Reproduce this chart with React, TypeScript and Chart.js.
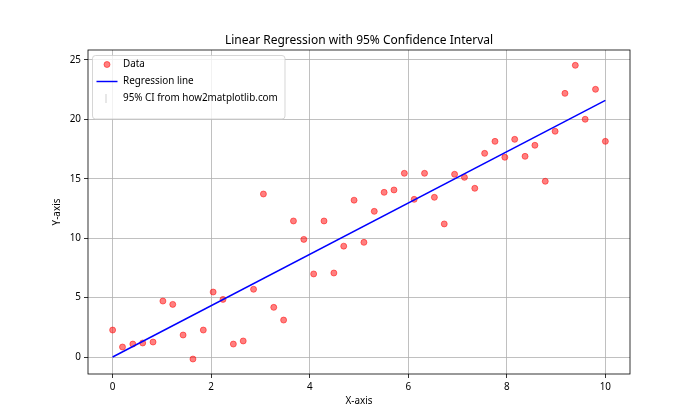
import React, { useEffect, useRef } from 'react';
import { Chart, registerables } from 'chart.js';

Chart.register(...registerables);

const FONT = '"Noto Sans", "DejaVu Sans", sans-serif';

const xValues = [
  0.0, 0.2, 0.41, 0.61, 0.82, 1.02, 1.22, 1.43, 1.63, 1.84,
  2.04, 2.24, 2.45, 2.65, 2.86, 3.06, 3.27, 3.47, 3.67, 3.88,
  4.08, 4.29, 4.49, 4.69, 4.9, 5.1, 5.31, 5.51, 5.71, 5.92,
  6.12, 6.33, 6.53, 6.73, 6.94, 7.14, 7.35, 7.55, 7.76, 7.96,
  8.16, 8.37, 8.57, 8.78, 8.98, 9.18, 9.39, 9.59, 9.8, 10.0,
];
const yValues = [
  2.27, 0.84, 1.09, 1.18, 1.26, 4.71, 4.43, 1.85, -0.17, 2.27,
  5.47, 4.85, 1.09, 1.35, 5.7, 13.72, 4.18, 3.11, 11.45, 9.9,
  6.99, 11.45, 7.07, 9.33, 13.2, 9.65, 12.26, 13.86, 14.06, 15.46,
  13.27, 15.46, 13.44, 11.2, 15.38, 15.12, 14.2, 17.14, 18.15, 16.81,
  18.32, 16.89, 17.82, 14.79, 19.0, 22.19, 24.55, 20.01, 22.53, 18.15,
];
const regressionX = [0, 10];
const regressionY = [0.0, 21.6];

const xTicks = [0, 2, 4, 6, 8, 10];
const yTicks = [0, 5, 10, 15, 20, 25];

const titleText = 'Linear Regression with 95% Confidence Interval';
const xLabel = 'X-axis';
const yLabel = 'Y-axis';
const legendLabels = ['Data', 'Regression line', '95% CI from how2matplotlib.com'];

const overlayPlugin = {
  id: 'overlay',
  afterDraw(chart: any) {
    const ctx = chart.ctx as CanvasRenderingContext2D;
    const a = chart.chartArea;
    ctx.save();
    // frame
    ctx.strokeStyle = '#000';
    ctx.lineWidth = 0.8;
    ctx.strokeRect(a.left, a.top, a.right - a.left, a.bottom - a.top);

    // title
    ctx.fillStyle = '#000';
    ctx.font = `12px ${FONT}`;
    ctx.textAlign = 'center';
    ctx.textBaseline = 'middle';
    ctx.fillText(titleText, (a.left + a.right) / 2, 41);

    // axis labels
    ctx.font = `9.9px ${FONT}`;
    ctx.fillText(xLabel, (a.left + a.right) / 2, 401);
    ctx.save();
    ctx.translate(57, (a.top + a.bottom) / 2);
    ctx.rotate(-Math.PI / 2);
    ctx.fillText(yLabel, 0, 0);
    ctx.restore();

    // legend
    const lx = a.left + 4.5;
    const ly = a.top + 5.5;
    const lw = 192.5;
    const lh = 63.5;
    ctx.beginPath();
    (ctx as any).roundRect(lx, ly, lw, lh, 3);
    ctx.fillStyle = 'rgba(255,255,255,0.8)';
    ctx.fill();
    ctx.strokeStyle = 'rgba(204,204,204,0.8)';
    ctx.lineWidth = 1;
    ctx.stroke();

    const rows = [ly + 9, ly + 26, ly + 43];
    const mx = lx + 14.5;
    // Data marker
    ctx.beginPath();
    ctx.arc(mx, rows[0], 3, 0, Math.PI * 2);
    ctx.fillStyle = 'rgba(255,0,0,0.5)';
    ctx.fill();
    ctx.strokeStyle = 'rgba(255,0,0,0.5)';
    ctx.lineWidth = 1;
    ctx.stroke();
    // regression line marker
    ctx.beginPath();
    ctx.moveTo(lx + 4, rows[1]);
    ctx.lineTo(lx + 25, rows[1]);
    ctx.strokeStyle = '#0000ff';
    ctx.lineWidth = 1.46;
    ctx.stroke();
    // CI marker
    ctx.beginPath();
    ctx.moveTo(mx - 1, rows[2] - 4.5);
    ctx.lineTo(mx - 1, rows[2] + 4.5);
    ctx.strokeStyle = 'rgba(128,128,128,0.25)';
    ctx.lineWidth = 1.5;
    ctx.stroke();

    ctx.fillStyle = '#000';
    ctx.font = `9.9px ${FONT}`;
    ctx.textAlign = 'left';
    ctx.textBaseline = 'middle';
    legendLabels.forEach((t, i) => ctx.fillText(t, lx + 30.5, rows[i]));
    ctx.restore();
  },
};

export default function App() {
  const ref = useRef<HTMLCanvasElement | null>(null);
  useEffect(() => {
    if (!ref.current) return;
    const tickFont = { family: FONT, size: 9.9 };
    const chart = new Chart(ref.current, {
      type: 'scatter',
      data: {
        datasets: [
          {
            type: 'line',
            label: legendLabels[1],
            data: regressionX.map((x, i) => ({ x, y: regressionY[i] })),
            borderColor: '#0000ff',
            borderWidth: 1.46,
            pointRadius: 0,
            fill: false,
            order: 1,
          } as any,
          {
            type: 'scatter',
            label: legendLabels[0],
            data: xValues.map((x, i) => ({ x, y: yValues[i] })),
            backgroundColor: 'rgba(255,0,0,0.5)',
            borderColor: 'rgba(255,0,0,0.5)',
            borderWidth: 1,
            pointRadius: 3,
            order: 2,
          },
        ],
      },
      options: {
        responsive: false,
        animation: false,
        layout: { padding: { top: 50, right: 70, left: 0, bottom: 0 } },
        plugins: {
          legend: { display: false },
          title: { display: false },
          tooltip: { enabled: false },
        },
        scales: {
          x: {
            type: 'linear',
            min: -0.5,
            max: 10.5,
            afterBuildTicks: (s: any) => {
              s.ticks = xTicks.map((v) => ({ value: v }));
            },
            afterFit: (s: any) => {
              s.height = 46;
            },
            grid: { color: '#b0b0b0', lineWidth: 0.8, tickColor: '#000', tickLength: 4, tickWidth: 0.8 },
            border: { display: false },
            ticks: { color: '#000', font: tickFont, padding: 3, maxRotation: 0 },
          },
          y: {
            type: 'linear',
            min: -1.43,
            max: 25.84,
            afterBuildTicks: (s: any) => {
              s.ticks = yTicks.map((v) => ({ value: v }));
            },
            afterFit: (s: any) => {
              s.width = 88;
            },
            grid: { color: '#b0b0b0', lineWidth: 0.8, tickColor: '#000', tickLength: 4, tickWidth: 0.8 },
            border: { display: false },
            ticks: { color: '#000', font: tickFont, padding: 3 },
          },
        },
      },
      plugins: [overlayPlugin],
    });
    return () => chart.destroy();
  }, []);
  return (
    <div style={{ position: 'fixed', left: 0, top: 0, width: 700, height: 420, background: '#fff' }}>
      <canvas ref={ref} width={700} height={420} style={{ width: 700, height: 420, display: 'block' }} />
    </div>
  );
}
